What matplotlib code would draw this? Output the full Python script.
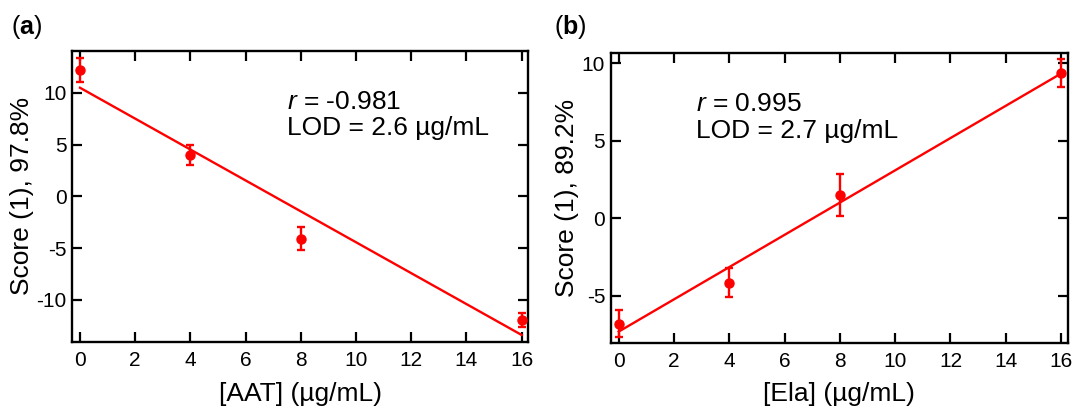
import numpy as np
import matplotlib
matplotlib.use("Agg")
import matplotlib.pyplot as plt

# ---- data ----
conc = [0, 4, 8, 16]
aat_score = [12.2, 4.0, -4.1, -11.95]
aat_err = [1.2, 1.0, 1.1, 0.68]
ela_score = [-6.8, -4.15, 1.48, 9.35]
ela_err = [0.85, 0.95, 1.35, 0.9]
x_ticks = [0, 2, 4, 6, 8, 10, 12, 14, 16]
a_yticks = [-10, -5, 0, 5, 10]
b_yticks = [-5, 0, 5, 10]
a_stats = ["-0.981", "2.6"]
b_stats = ["0.995", "2.7"]

plt.rcParams['font.family'] = ['Liberation Sans', 'DejaVu Sans']
plt.rcParams['mathtext.fontset'] = 'custom'
plt.rcParams['mathtext.rm'] = 'Liberation Sans'
plt.rcParams['mathtext.it'] = 'Liberation Sans:italic'
plt.rcParams['mathtext.bf'] = 'Liberation Sans:bold'
plt.rcParams['axes.unicode_minus'] = False

fig = plt.figure(figsize=(10.81, 4.11), dpi=100)
ax1 = fig.add_axes([72/1081, 1-341.7/411, 456.3/1081, 290.7/411])
ax2 = fig.add_axes([610.7/1081, 1-342.7/411, 457/1081, 290/411])

RED = '#ff0000'

def draw(ax, y, err, yticks, ylim, xlabel, ylabel, stats, txy, label, lx,
         ylab_x, xlab_y):
    x = np.array(conc, dtype=float)
    yv = np.array(y, dtype=float)
    slope, inter = np.polyfit(x, yv, 1)
    ax.plot([x[0], x[-1]], [inter + slope*x[0], inter + slope*x[-1]],
            color=RED, lw=1.7, zorder=2)
    ax.errorbar(x, yv, yerr=err, fmt='o', color=RED, ms=6.5, elinewidth=1.7,
                capsize=3, capthick=1.7, zorder=3)
    ax.set_xlim(-0.29, 16.24)
    ax.set_ylim(*ylim)
    ax.set_xticks(x_ticks)
    ax.set_yticks(yticks)
    ax.tick_params(direction='in', length=7.5, width=1.6, top=True, right=True,
                   labelsize=15, colors='black')
    ax.tick_params(axis='x', pad=7)
    ax.tick_params(axis='y', pad=4)
    for s in ax.spines.values():
        s.set_linewidth(1.7)
    ax.set_xlabel(xlabel, fontsize=19)
    ax.set_ylabel(ylabel, fontsize=19)
    ax.yaxis.set_label_coords(ylab_x, 0.5)
    ax.xaxis.set_label_coords(0.5, xlab_y)
    ax.text(txy[0], txy[1], r"$\mathit{r}$ = " + stats[0], fontsize=19,
            ha='left', va='center')
    ax.text(txy[0], txy[2], "LOD = " + stats[1] + " µg/mL", fontsize=19,
            ha='left', va='center')
    fig.text(lx, 1-27/411, r"($\mathbf{" + label + r"}$)", fontsize=18,
             ha='left', va='center')

draw(ax1, aat_score, aat_err, a_yticks, (-14.05, 14.04), "[AAT] (µg/mL)",
     "Score (1), 97.8%", a_stats, (7.5, 9.1, 6.6), "a", 11/1081,
     -0.083, -0.139)
draw(ax2, ela_score, ela_err, b_yticks, (-8.03, 10.68), "[Ela] (µg/mL)",
     "Score (1), 89.2%", b_stats, (2.8, 7.4, 5.65), "b", 554/1081,
     -0.069, -0.1355)

fig.savefig("out.png", dpi=100)
